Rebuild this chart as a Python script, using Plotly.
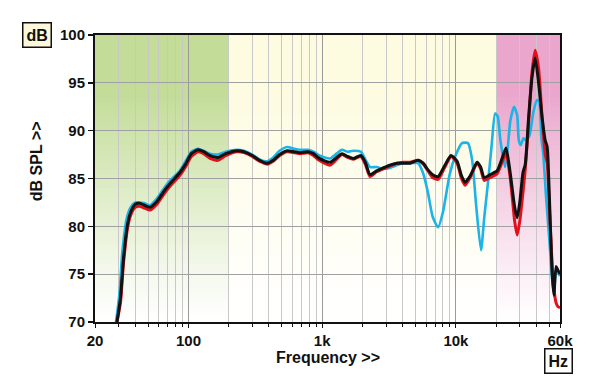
import numpy as np
import plotly.graph_objects as go

# ---------------- data ----------------
black_f = [29.2, 31, 32.6, 35, 37, 40, 43, 47, 51.6, 58, 65, 73, 86, 95, 105, 118, 130, 145, 166, 190,
           231, 260, 300, 340, 387, 430, 480, 546, 620, 683, 783, 860, 950, 1146, 1280, 1406, 1550, 1703,
           1945, 2100, 2280, 2550, 2853, 3200, 3630, 4000, 4540, 5210, 5700, 6180, 6700, 7350, 8200, 9200,
           10200, 11000, 11700, 12800, 14400, 15300, 16260, 18000, 20300, 22000, 23700, 25500, 27500, 28700,
           30000, 31700, 33000, 35000, 37000, 39100, 41500, 44000, 46500, 48100, 50000, 52400, 54000, 56100,
           58000, 60000]
black_db = [70, 72.5, 76.5, 80.2, 81.5, 82.3, 82.4, 82.2, 82.0, 82.6, 83.6, 84.5, 85.6, 86.5, 87.6, 88.0,
            87.8, 87.4, 87.2, 87.6, 87.9, 87.8, 87.4, 86.9, 86.6, 86.9, 87.5, 87.9, 87.8, 87.7, 87.8, 87.6,
            87.1, 86.7, 87.2, 87.6, 87.3, 87.1, 87.4, 86.7, 85.4, 85.8, 86.1, 86.4, 86.6, 86.6, 86.6, 86.9,
            86.6, 85.9, 85.4, 85.2, 86.3, 87.4, 86.8, 85.3, 84.6, 85.3, 86.7, 86.2, 85.1, 85.4, 85.8, 87.0,
            88.2, 85.5, 82.0, 80.9, 82.5, 85.6, 86.5, 91.5, 95.5, 97.6, 95.0, 91.5, 89.0, 88.3, 83.0, 75.1,
            72.8, 75.8, 75.4, 75.0]

red_f = black_f
red_db = [70, 72.0, 76.0, 79.8, 81.2, 82.0, 82.1, 81.9, 81.7, 82.3, 83.3, 84.2, 85.3, 86.2, 87.3, 87.8,
          87.6, 87.1, 86.9, 87.4, 87.8, 87.7, 87.3, 86.8, 86.5, 86.8, 87.4, 87.8, 87.7, 87.6, 87.7, 87.4,
          86.9, 86.4, 87.0, 87.5, 87.2, 87.0, 87.3, 86.5, 85.2, 85.7, 86.0, 86.3, 86.6, 86.7, 86.7, 86.9,
          86.5, 85.8, 85.1, 84.9, 86.1, 87.3, 86.6, 85.0, 84.3, 85.1, 86.6, 86.0, 84.8, 85.1, 85.5, 86.6,
          87.6, 85.0, 80.5, 79.1, 80.5, 83.5, 86.0, 91.0, 96.0, 98.4, 96.5, 91.5, 87.5, 86.6, 82.0, 76.0,
          73.5, 72.0, 71.6, 71.5]

cyan_f = [28.7, 30.5, 32, 34.5, 37, 40, 43, 47, 51.6, 58, 65, 73, 86, 95, 105, 118, 130, 145, 166, 190,
          231, 260, 300, 340, 387, 430, 480, 546, 620, 683, 783, 860, 950, 1146, 1280, 1406, 1550, 1703,
          1945, 2100, 2280, 2550, 2853, 3200, 3630, 4000, 4540, 5210, 5700, 6180, 6700, 7350, 8000, 9000,
          10000, 11100, 12300, 13200, 14200, 15400, 16300, 17500, 18500, 19640, 20500, 21500, 23300, 24500,
          25500, 27200, 28700, 29500, 30500, 32000, 33500, 35500, 38000, 40400, 42000, 43500, 45000, 47200,
          50000, 52400, 54000, 56100, 58000, 60000]
cyan_db = [70, 73.0, 77.3, 80.8, 82.0, 82.5, 82.5, 82.4, 82.2, 82.9, 83.9, 84.8, 85.8, 86.8, 87.8, 88.1,
           87.9, 87.6, 87.5, 87.8, 88.0, 87.9, 87.5, 87.0, 86.8, 87.2, 87.9, 88.3, 88.1, 88.0, 88.0, 87.8,
           87.4, 87.1, 87.6, 88.0, 87.8, 87.9, 87.8, 87.0, 86.2, 86.2, 86.0, 86.1, 86.4, 86.6, 86.6, 86.6,
           85.5, 83.5, 81.0, 79.9, 81.5, 85.5, 87.5, 88.7, 88.7, 87.0, 82.0, 77.5, 81.0, 85.0, 88.5, 91.8,
           91.5, 89.0, 86.2, 88.5, 91.0, 92.5, 91.6, 89.0, 88.5, 89.2, 89.0, 89.5, 92.0, 93.2, 93.0, 89.3,
           87.5, 83.1, 78.5, 74.5, 73.0, 75.5, 75.2, 74.8]

x_tickvals = [20, 100, 1000, 10000, 60000]
x_ticktext = ["20", "100", "1k", "10k", "60k"]
y_tickvals = [70, 75, 80, 85, 90, 95, 100]

# background bands (Hz edges) and their top colours
band_edges = [20, 200, 20000, 60000]
band_colors = [(195, 220, 152), (253, 251, 224), (234, 166, 204)]

F_MIN, F_MAX = 20, 60000
Y_MIN, Y_MAX = 70, 100

minor_vals = [m * d for d in (10, 100, 1000, 10000) for m in range(2, 10)
              if F_MIN < m * d < F_MAX]


def xfrac(f):
    return (np.log10(f) - np.log10(F_MIN)) / (np.log10(F_MAX) - np.log10(F_MIN))


fig = go.Figure()

# gradient bands as stacked strips (below grid)
shapes = []
n_strips = 60
for (lo, hi), (r, g, b) in zip(zip(band_edges[:-1], band_edges[1:]), band_colors):
    for i in range(n_strips):
        y0 = i / n_strips
        y1 = (i + 1) / n_strips
        t = (y0 + y1) / 2
        w = min(1.0, (t / 0.8) ** 1.1)  # weight of band colour (0 bottom -> 1 top)
        col = "rgb(%d,%d,%d)" % (round(255 + (r - 255) * w), round(255 + (g - 255) * w), round(255 + (b - 255) * w))
        shapes.append(dict(type="rect", xref="paper", yref="paper", layer="below",
                           x0=float(xfrac(lo)), x1=float(xfrac(hi)), y0=y0, y1=min(1.0, y1 + 0.003),
                           fillcolor=col, line=dict(width=0)))

fig.add_trace(go.Scatter(x=cyan_f, y=cyan_db, mode="lines", line=dict(color="#1ab4e6", width=2.6, shape="spline", smoothing=0.6),
                         hoverinfo="skip", showlegend=False))
fig.add_trace(go.Scatter(x=red_f, y=red_db, mode="lines", line=dict(color="#e3101c", width=3, shape="spline", smoothing=0.6),
                         hoverinfo="skip", showlegend=False))
fig.add_trace(go.Scatter(x=black_f, y=black_db, mode="lines", line=dict(color="#111111", width=3, shape="spline", smoothing=0.6),
                         hoverinfo="skip", showlegend=False))

FAM = "Liberation Sans, Arial, sans-serif"
font_bold = dict(family=FAM, size=15, color="#111111", weight="bold")

fig.update_layout(
    width=600, height=389,
    margin=dict(l=95, r=40, t=35, b=67),
    paper_bgcolor="white", plot_bgcolor="white",
    shapes=shapes,
    xaxis=dict(type="log", range=[np.log10(F_MIN), np.log10(F_MAX)],
               tickvals=x_tickvals, ticktext=x_ticktext, tickfont=font_bold,
               showgrid=True, gridcolor="#9a9a9a", gridwidth=1,
               ticks="outside", ticklen=4, tickcolor="#111", tickwidth=1,
               minor=dict(tickvals=minor_vals, showgrid=True, gridcolor="#c8c8c8", gridwidth=1,
                          ticks="outside", ticklen=3, tickcolor="#111"),
               showline=True, linecolor="#111", linewidth=2, mirror=True,
               zeroline=False, fixedrange=True),
    yaxis=dict(range=[Y_MIN, Y_MAX], tickvals=y_tickvals, tickfont=font_bold,
               showgrid=True, gridcolor="#a0a0a0", gridwidth=1,
               ticks="outside", ticklen=5, tickcolor="#111", tickwidth=1.5,
               showline=True, linecolor="#111", linewidth=2, mirror=True,
               zeroline=False, fixedrange=True),
    annotations=[
        dict(text="Frequency >>", xref="paper", yref="paper", x=0.5, y=-0.125, xanchor="center", yanchor="middle",
             showarrow=False, font=dict(family=FAM, size=16, color="#111", weight="bold")),
        dict(text="dB SPL >>", xref="paper", yref="paper", x=-0.127, y=0.56, xanchor="center", yanchor="middle",
             textangle=-90, showarrow=False, font=dict(family=FAM, size=16, color="#111", weight="bold")),
        dict(text="dB", xref="paper", yref="paper", x=-0.125, y=1.0, xanchor="center", yanchor="middle",
             showarrow=False, bgcolor="#fdf8dc", bordercolor="#111", borderwidth=1.5, borderpad=3,
             font=dict(family=FAM, size=16, color="#111", weight="bold")),
        dict(text="Hz", xref="paper", yref="paper", x=0.996, y=-0.136, xanchor="center", yanchor="middle",
             showarrow=False, bgcolor="white", bordercolor="#111", borderwidth=1.5, borderpad=3,
             font=dict(family=FAM, size=16, color="#111", weight="bold")),
    ],
)

fig.write_html("out.html", config={"displayModeBar": False, "staticPlot": True},
               post_script="document.body.style.margin='0';")
